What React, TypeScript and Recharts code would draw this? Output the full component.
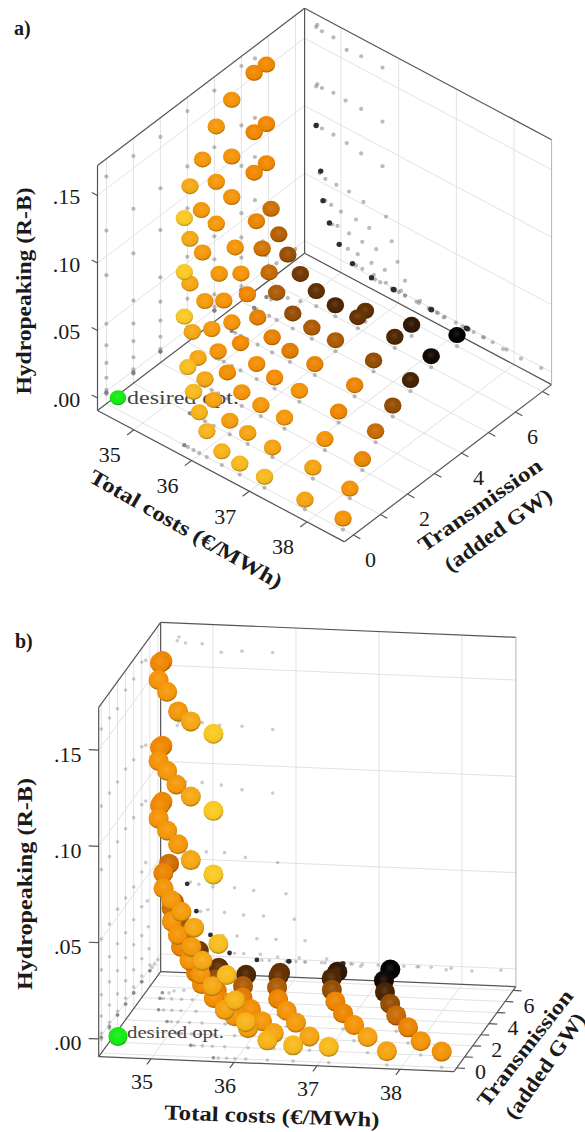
import React from 'react';
import { ScatterChart, Scatter, XAxis, YAxis, ReferenceLine } from 'recharts';

// one sphere row per list entry; both panels are two views of the same points
const transmission: number[][] = [
  [5.5, 5, 4, 3, 2, 1, 0],
  [5.5, 5, 4, 3, 2, 1, 0],
  [5.5, 5, 4, 3, 2, 1, 0],
  [5.5, 5, 4, 3, 2, 1, 0],
  [5.7, 5, 4, 3, 2, 1, 0],
  [5.8, 5, 4, 3, 2, 1, 0],
  [5.9, 5, 4, 3, 2, 1, 0],
  [6, 5, 4, 3, 2, 1, 0],
  [6, 5, 4, 3, 2, 1, 0],
  [6.3, 6, 5, 4, 3, 2, 1, 0],
  [6.6, 6, 5, 4, 3, 2, 1, 0],
  [7, 6, 5, 4, 3, 2, 1, 0],
];
const totalCosts: number[][] = [
  [34.65, 34.67, 34.75, 34.95, 35.18, 35.43, 35.8],
  [34.65, 34.67, 34.75, 34.95, 35.16, 35.43, 35.8],
  [34.65, 34.67, 34.75, 34.95, 35.18, 35.43, 35.8],
  [34.73, 34.71, 34.81, 35.0, 35.22, 35.47, 35.86],
  [34.77, 34.81, 34.91, 35.08, 35.34, 35.57, 35.96],
  [34.88, 34.93, 35.02, 35.22, 35.45, 35.69, 36.06],
  [35.05, 35.06, 35.2, 35.37, 35.61, 35.84, 36.19],
  [35.28, 35.34, 35.45, 35.65, 35.86, 36.12, 36.45],
  [35.61, 35.67, 35.76, 35.96, 36.19, 36.43, 36.76],
  [35.99, 36.0, 36.08, 36.19, 36.39, 36.6, 36.86, 37.19],
  [36.65, 36.64, 36.74, 36.88, 37.07, 37.3, 37.56, 37.89],
  [37.25, 37.27, 37.38, 37.54, 37.71, 37.95, 38.2, 38.55],
];
const hydropeaking: number[][] = [
  [0.166, 0.168, 0.165, 0.165, 0.161, 0.162, 0.162],
  [0.122, 0.124, 0.123, 0.124, 0.123, 0.123, 0.122],
  [0.093, 0.094, 0.093, 0.093, 0.092, 0.09, 0.089],
  [0.061, 0.059, 0.057, 0.057, 0.057, 0.055, 0.053],
  [0.04, 0.041, 0.04, 0.039, 0.039, 0.038, 0.037],
  [0.026, 0.026, 0.027, 0.026, 0.025, 0.025, 0.024],
  [0.014, 0.014, 0.014, 0.014, 0.013, 0.013, 0.013],
  [0.005, 0.005, 0.005, 0.005, 0.004, 0.004, 0.004],
  [0.002, 0.002, 0.002, 0.002, 0.002, 0.002, 0.002],
  [0.002, 0.002, 0.002, 0.002, 0.002, 0.002, 0.001, 0.002],
  [0.002, 0.002, 0.002, 0.002, 0.002, 0.002, 0.002, 0.001],
  [0.002, 0.002, 0.002, 0.002, 0.002, 0.002, 0.001, 0.002],
];
// 0 = yellow, 1 = black
const colourLevel: number[][] = [
  [0.36, 0.36, 0.3, 0.28, 0.28, 0.2, 0.05],
  [0.36, 0.36, 0.3, 0.28, 0.28, 0.2, 0.05],
  [0.36, 0.36, 0.3, 0.28, 0.28, 0.2, 0.05],
  [0.5, 0.38, 0.3, 0.28, 0.26, 0.2, 0.1],
  [0.58, 0.47, 0.3, 0.3, 0.27, 0.2, 0.12],
  [0.65, 0.53, 0.37, 0.3, 0.3, 0.2, 0.15],
  [0.75, 0.6, 0.4, 0.35, 0.33, 0.23, 0.15],
  [0.8, 0.66, 0.4, 0.33, 0.3, 0.25, 0.15],
  [0.85, 0.6, 0.42, 0.33, 0.28, 0.22, 0.12],
  [0.8, 0.78, 0.6, 0.38, 0.3, 0.27, 0.22, 0.12],
  [0.92, 0.85, 0.66, 0.38, 0.37, 0.3, 0.22, 0.22],
  [1, 0.97, 0.87, 0.66, 0.52, 0.38, 0.3, 0.3],
];
const desiredOpt = { cost: 34.65, trans: 0, hydro: 0.0027 };

const costTicks = [35, 36, 37, 38];
const transTicks = [0, 1, 2, 3, 4, 5, 6, 7];
const transLabels = [0, 2, 4, 6];
const hydroTicks = [0, 0.05, 0.1, 0.15];
const hydroLabels = ['.00', '.05', '.10', '.15'];

// box limits
const cMin = 34.45;
const cMax = 38.73;
const tMin = -0.33;
const tMax = 7.34;
const hMin = -0.0062;
const hMax = 0.1752;
const COST_TICK_SHIFT = 0.08;
const HYDRO_TICK_SHIFT = 0.003;

const FONT = '"Liberation Serif", serif';

const colourStops: [number, number[]][] = [
  [0, [252, 212, 40]],
  [0.2, [246, 168, 20]],
  [0.35, [244, 138, 0]],
  [0.55, [192, 102, 4]],
  [0.75, [114, 56, 2]],
  [0.9, [60, 28, 2]],
  [1, [0, 0, 0]],
];
const colourOf = (v: number) => {
  for (let i = 1; i < colourStops.length; i++) {
    const [a, ca] = colourStops[i - 1];
    const [b, cb] = colourStops[i];
    if (v <= b) {
      const k = (v - a) / (b - a);
      const c = ca.map((x, j) => Math.round(x + (cb[j] - x) * k));
      return `rgb(${c[0]},${c[1]},${c[2]})`;
    }
  }
  return '#000';
};

const points = transmission.flatMap((row, i) =>
  row.map((trans, j) => ({
    trans,
    cost: totalCosts[i][j],
    hydro: hydropeaking[i][j],
    colour: colourOf(colourLevel[i][j]),
  })),
);

const viewA = {
  top: 0, height: 600,
  x0: 138.15, xc: 57.71, xt: 27,
  y0: 412.2, yc: 30.7, yt: -20.5, yh: -1350,
  rx: 8.7, ry: 8, dot: 2.1, dotAlpha: 0.5,
  depth: (p: any) => p.cost - p.trans * 0.55 + p.hydro * 10,
  costStub: 0.25, transStub: 0.12, hydroStub: 0.1,
  costLabel: [-24, 25], transLabel: [17, 24], hydroLabel: [-31, 1],
  texts: [
    { text: 'a)', at: [14, 28], size: 20, bold: true, anchor: 'start' },
    { text: 'Hydropeaking (R-B)', at: [24, 291], size: 21, bold: true, angle: -90, len: 207 },
    { text: 'Total costs (€/MWh)', at: [186, 529], size: 21, bold: true, angle: 29.7, len: 218 },
    { text: 'Transmission', at: [480, 505], size: 21, bold: true, angle: -35, len: 146 },
    { text: '(added GW)', at: [498, 530], size: 21, bold: true, angle: -35.7, len: 127 },
    { text: 'desired opt.', at: [127, 397], size: 19, color: '#444', anchor: 'start', len: 112 },
  ],
};

const viewB = {
  top: 600, height: 532,
  x0: 147, xc: 83, xt: 8.08,
  y0: 1043, yc: 3.5, yt: -11.08, yh: -1926,
  rx: 10, ry: 10, dot: 1.8, dotAlpha: 0.38,
  depth: (p: any) => p.cost * 0.1 - p.trans + p.hydro * 5,
  costStub: 0.5, transStub: 0.1, hydroStub: 0.12,
  costLabel: [-9, 23], transLabel: [24, 4], hydroLabel: [-31, 4],
  texts: [
    { text: 'b)', at: [15, 641], size: 20, bold: true, anchor: 'start' },
    { text: 'Hydropeaking (R-B)', at: [25, 884], size: 21, bold: true, angle: -90, len: 212 },
    { text: 'Total costs (€/MWh)', at: [272, 1116], size: 21, bold: true, angle: 2, len: 215 },
    { text: 'Transmission', at: [525, 1048], size: 21, bold: true, angle: -52, len: 142 },
    { text: '(added GW)', at: [545, 1066], size: 21, bold: true, angle: -55, len: 124 },
    { text: 'desired opt.', at: [127, 1032], size: 17, color: '#444', anchor: 'start', len: 97 },
  ],
};

const Sphere = (props: any) => {
  const { cx, cy, payload, rx, ry } = props;
  return (
    <g>
      <ellipse cx={cx} cy={cy} rx={rx} ry={ry} fill={payload.colour} />
      <ellipse cx={cx} cy={cy} rx={rx} ry={ry} fill="url(#sphereShade)" />
    </g>
  );
};

const Label = (props: any) => {
  const { cx, cy, payload } = props;
  return (
    <text
      x={cx}
      y={cy}
      transform={payload.angle ? `rotate(${payload.angle} ${cx} ${cy})` : undefined}
      textAnchor={payload.anchor || 'middle'}
      dominantBaseline="central"
      fontFamily={FONT}
      fontSize={payload.size}
      fontWeight={payload.bold ? 700 : 400}
      fill={payload.color || '#1a1a1a'}
      textLength={payload.len}
      lengthAdjust={payload.len ? 'spacingAndGlyphs' : undefined}
    >
      {payload.text}
    </text>
  );
};

const Panel = ({ view }: { view: typeof viewA }) => {
  const at = (cost: number, trans: number, hydro: number) => ({
    x: view.x0 + view.xc * (cost - 35) + view.xt * trans,
    y: view.y0 + view.yc * (cost - 35) + view.yt * trans + view.yh * hydro,
  });
  const line = (a: number[], b: number[]) => [at(a[0], a[1], a[2]), at(b[0], b[1], b[2])];

  const grid: any[] = [];
  costTicks.forEach((c) => {
    const v = c + COST_TICK_SHIFT;
    grid.push(line([v, tMin, hMin], [v, tMax, hMin]));
    grid.push(line([v, tMax, hMin], [v, tMax, hMax]));
  });
  transTicks.forEach((t) => {
    grid.push(line([cMin, t, hMin], [cMax, t, hMin]));
    grid.push(line([cMin, t, hMin], [cMin, t, hMax]));
  });
  hydroTicks.forEach((h) => {
    const v = h + HYDRO_TICK_SHIFT;
    grid.push(line([cMin, tMin, v], [cMin, tMax, v]));
    grid.push(line([cMin, tMax, v], [cMax, tMax, v]));
  });

  const frame = [
    line([cMin, tMin, hMin], [cMax, tMin, hMin]),
    line([cMax, tMin, hMin], [cMax, tMax, hMin]),
    line([cMin, tMin, hMin], [cMin, tMax, hMin]),
    line([cMin, tMax, hMin], [cMax, tMax, hMin]),
    line([cMin, tMin, hMin], [cMin, tMin, hMax]),
    line([cMin, tMax, hMin], [cMin, tMax, hMax]),
    line([cMin, tMin, hMax], [cMin, tMax, hMax]),
    line([cMin, tMax, hMax], [cMax, tMax, hMax]),
  ];
  costTicks.forEach((c) => {
    const v = c + COST_TICK_SHIFT;
    frame.push(line([v, tMin, hMin], [v, tMin - view.costStub, hMin]));
  });
  transTicks.forEach((t) => frame.push(line([cMax, t, hMin], [cMax + view.transStub, t, hMin])));
  hydroTicks.forEach((h) => {
    const v = h + HYDRO_TICK_SHIFT;
    frame.push(line([cMin, tMin, v], [cMin - view.hydroStub, tMin, v]));
  });

  // shadows of the spheres on the floor and the two walls
  const lightDots = [
    ...points.map((p) => at(p.cost, p.trans, hMin)),
    ...points.map((p) => at(cMin, p.trans, p.hydro)),
    ...points.filter((p) => !(p.trans >= 5.5 && p.hydro < 0.11)).map((p) => at(p.cost, tMax, p.hydro)),
  ];
  const darkDots = points.filter((p) => p.trans >= 5.5 && p.hydro < 0.11).map((p) => at(p.cost, tMax, p.hydro));

  const spheres = [...points]
    .sort((a, b) => view.depth(a) - view.depth(b))
    .map((p) => ({ ...at(p.cost, p.trans, p.hydro), colour: p.colour }));

  const tickTexts = [
    ...costTicks.map((c) => {
      const e = at(c + COST_TICK_SHIFT, tMin, hMin);
      return { text: String(c), x: e.x + view.costLabel[0], y: e.y + view.costLabel[1], size: 22 };
    }),
    ...transLabels.map((t) => {
      const e = at(cMax, t, hMin);
      return { text: String(t), x: e.x + view.transLabel[0], y: e.y + view.transLabel[1], size: 22 };
    }),
    ...hydroTicks.map((h, i) => {
      const e = at(cMin, tMin, h + HYDRO_TICK_SHIFT);
      return { text: hydroLabels[i], x: e.x + view.hydroLabel[0], y: e.y + view.hydroLabel[1], size: 22 };
    }),
  ];
  const texts = [...tickTexts, ...view.texts.map((t) => ({ ...t, x: t.at[0], y: t.at[1] }))];

  const green = [{ ...at(desiredOpt.cost, desiredOpt.trans, desiredOpt.hydro), colour: '#14ec14' }];

  return (
    <div style={{ position: 'absolute', left: 0, top: view.top }}>
      <ScatterChart width={585} height={view.height} margin={{ top: 0, right: 0, bottom: 0, left: 0 }}>
        <XAxis type="number" dataKey="x" domain={[0, 585]} hide />
        <YAxis type="number" dataKey="y" domain={[view.top, view.top + view.height]} reversed hide />
        {grid.map((s, i) => (
          <ReferenceLine key={`g${i}`} segment={s} stroke="#e2e2e2" strokeWidth={1} ifOverflow="visible" />
        ))}
        {frame.map((s, i) => (
          <ReferenceLine key={`f${i}`} segment={s} stroke="#555" strokeWidth={1.2} ifOverflow="visible" />
        ))}
        <ReferenceLine
          segment={line([cMax, tMax, hMin], [cMax, tMax, hMax])}
          stroke="#b5b5b5"
          strokeWidth={1}
          ifOverflow="visible"
        />
        <Scatter
          data={lightDots}
          isAnimationActive={false}
          shape={(p: any) => <circle cx={p.cx} cy={p.cy} r={view.dot} fill="#777" fillOpacity={view.dotAlpha} />}
        />
        <Scatter
          data={darkDots}
          isAnimationActive={false}
          shape={(p: any) => <circle cx={p.cx} cy={p.cy} r={view.dot + 0.6} fill="#2e2e2e" />}
        />
        <Scatter data={texts} isAnimationActive={false} shape={<Label />} />
        <Scatter data={spheres} isAnimationActive={false} shape={<Sphere rx={view.rx} ry={view.ry} />} />
        <Scatter data={green} isAnimationActive={false} shape={<Sphere rx={view.rx - 0.5} ry={view.ry - 0.5} />} />
      </ScatterChart>
    </div>
  );
};

export default function App() {
  return (
    <div style={{ position: 'absolute', left: 0, top: 0, width: 585, height: 1132, background: '#fff' }}>
      <svg width={0} height={0} style={{ position: 'absolute' }}>
        <defs>
          <radialGradient id="sphereShade" cx="48%" cy="42%" r="58%">
            <stop offset="0%" stopColor="#fff" stopOpacity={0.12} />
            <stop offset="50%" stopColor="#fff" stopOpacity={0} />
            <stop offset="82%" stopColor="#000" stopOpacity={0.05} />
            <stop offset="100%" stopColor="#000" stopOpacity={0.36} />
          </radialGradient>
        </defs>
      </svg>
      <Panel view={viewA} />
      <Panel view={viewB} />
    </div>
  );
}
